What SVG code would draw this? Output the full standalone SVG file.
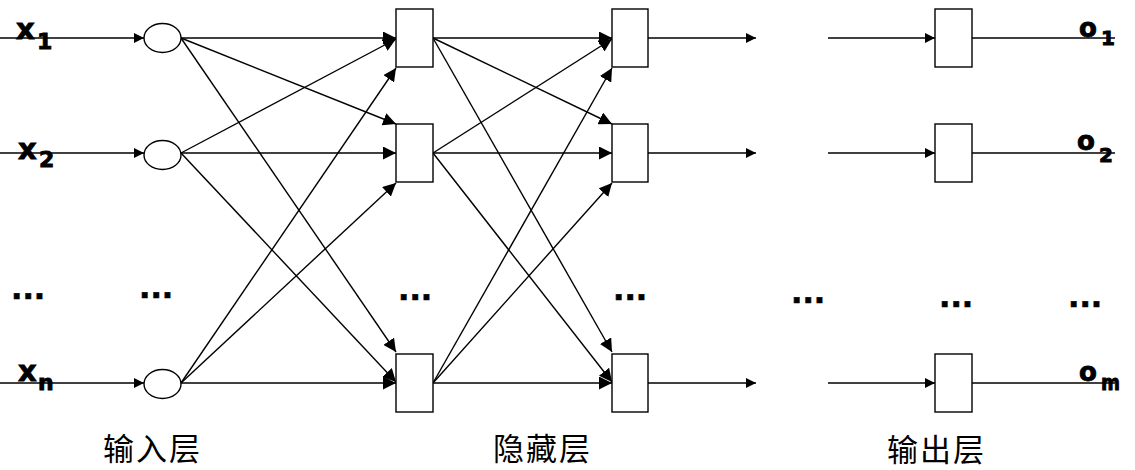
<svg xmlns="http://www.w3.org/2000/svg" width="1135" height="470" viewBox="0 0 1135 470">
<style>
.n{fill:#fff;stroke:#000;stroke-width:1.4}
.c line{stroke:#000;stroke-width:1.4}
.a{marker-end:url(#ah)}
.s{marker-end:url(#as)}
.lb{font-family:"DejaVu Sans","Liberation Sans",sans-serif;font-weight:bold;fill:#000;stroke:#000;stroke-width:0.9}
.dt{font-family:"DejaVu Sans","Liberation Sans",sans-serif;font-weight:bold;font-size:30px;fill:#000;stroke:#000;stroke-width:0.6}
.cn{font-family:"Noto Sans CJK SC",sans-serif;font-size:31px;letter-spacing:2px;fill:#000}
</style>
<defs>
<marker id="ah" markerUnits="userSpaceOnUse" markerWidth="14" markerHeight="13" refX="13" refY="6.5" orient="auto"><path d="M0,0 L13,6.5 L0,13 z" fill="#000"/></marker>
<marker id="as" markerUnits="userSpaceOnUse" markerWidth="11" markerHeight="10" refX="10" refY="5" orient="auto"><path d="M0,0 L10,5 L0,10 z" fill="#000"/></marker>
</defs>
<g id="connectors" class="c">
<line class="s" x1="0" y1="38" x2="144" y2="38"/>
<line class="s" x1="0" y1="153" x2="144" y2="153"/>
<line class="s" x1="0" y1="383" x2="144" y2="383"/>
<line class="a" x1="181" y1="38" x2="396" y2="38"/>
<line class="a" x1="181" y1="38" x2="396" y2="124"/>
<line class="a" x1="181" y1="38" x2="396" y2="352"/>
<line class="a" x1="181" y1="153" x2="396" y2="39"/>
<line class="a" x1="181" y1="153" x2="396" y2="153"/>
<line class="a" x1="181" y1="153" x2="396" y2="382"/>
<line class="a" x1="181" y1="383" x2="396" y2="68"/>
<line class="a" x1="181" y1="383" x2="396" y2="183"/>
<line class="a" x1="181" y1="383" x2="396" y2="383"/>
<line class="a" x1="433" y1="38" x2="612" y2="38"/>
<line class="a" x1="433" y1="38" x2="612" y2="124"/>
<line class="a" x1="433" y1="38" x2="612" y2="352"/>
<line class="a" x1="433" y1="153" x2="612" y2="39"/>
<line class="a" x1="433" y1="153" x2="612" y2="153"/>
<line class="a" x1="433" y1="153" x2="612" y2="382"/>
<line class="a" x1="433" y1="383" x2="612" y2="68"/>
<line class="a" x1="433" y1="383" x2="612" y2="183"/>
<line class="a" x1="433" y1="383" x2="612" y2="383"/>
<line class="s" x1="648" y1="38" x2="756" y2="38"/>
<line class="s" x1="648" y1="153" x2="756" y2="153"/>
<line class="s" x1="648" y1="383" x2="756" y2="383"/>
<line class="s" x1="828" y1="38" x2="935" y2="38"/>
<line class="s" x1="828" y1="153" x2="935" y2="153"/>
<line class="s" x1="828" y1="383" x2="935" y2="383"/>
<line x1="972" y1="38" x2="1115" y2="38"/>
<line x1="972" y1="153" x2="1115" y2="153"/>
<line x1="972" y1="383" x2="1115" y2="383"/>
</g>
<g id="in1"><ellipse class="n" cx="162.5" cy="38" rx="18.5" ry="14.5"/></g>
<g id="in2"><ellipse class="n" cx="162.5" cy="155" rx="18.5" ry="14.5"/></g>
<g id="inn"><ellipse class="n" cx="162.5" cy="384" rx="18.5" ry="14.5"/></g>
<g id="h1_1"><rect class="n" x="396" y="9" width="37" height="58"/></g>
<g id="h1_2"><rect class="n" x="396" y="124" width="37" height="58"/></g>
<g id="h1_n"><rect class="n" x="396" y="354" width="37" height="58"/></g>
<g id="h2_1"><rect class="n" x="612" y="9" width="36" height="58"/></g>
<g id="h2_2"><rect class="n" x="612" y="124" width="36" height="58"/></g>
<g id="h2_n"><rect class="n" x="612" y="354" width="36" height="58"/></g>
<g id="out1"><rect class="n" x="935" y="9" width="37" height="58"/></g>
<g id="out2"><rect class="n" x="935" y="124" width="37" height="58"/></g>
<g id="outm"><rect class="n" x="935" y="354" width="37" height="58"/></g>
<g id="labels">
<text class="lb" x="16" y="39" font-size="29">x</text><text class="lb" x="37" y="49" font-size="22">1</text>
<text class="lb" x="18" y="159" font-size="29">x</text><text class="lb" x="39" y="167" font-size="22">2</text>
<text class="lb" x="18" y="381" font-size="29">x</text><text class="lb" x="38" y="390" font-size="22">n</text>
<text class="lb" x="1079" y="37" font-size="26">o</text><text class="lb" x="1101" y="45" font-size="20">1</text>
<text class="lb" x="1077" y="150" font-size="26">o</text><text class="lb" x="1099" y="162" font-size="20">2</text>
<text class="lb" x="1079" y="381" font-size="26">o</text><text class="lb" x="1101" y="390" font-size="21" textLength="19" lengthAdjust="spacingAndGlyphs">m</text>
<text class="dt" x="11" y="299">...</text>
<text class="dt" x="139" y="298">...</text>
<text class="dt" x="398" y="300">...</text>
<text class="dt" x="613" y="300">...</text>
<text class="dt" x="791" y="303">...</text>
<text class="dt" x="939" y="307">...</text>
<text class="dt" x="1068" y="307">...</text>
<text class="cn" x="103" y="460">输入层</text>
<text class="cn" x="493" y="460">隐藏层</text>
<text class="cn" x="887" y="461">输出层</text>
</g>
</svg>
